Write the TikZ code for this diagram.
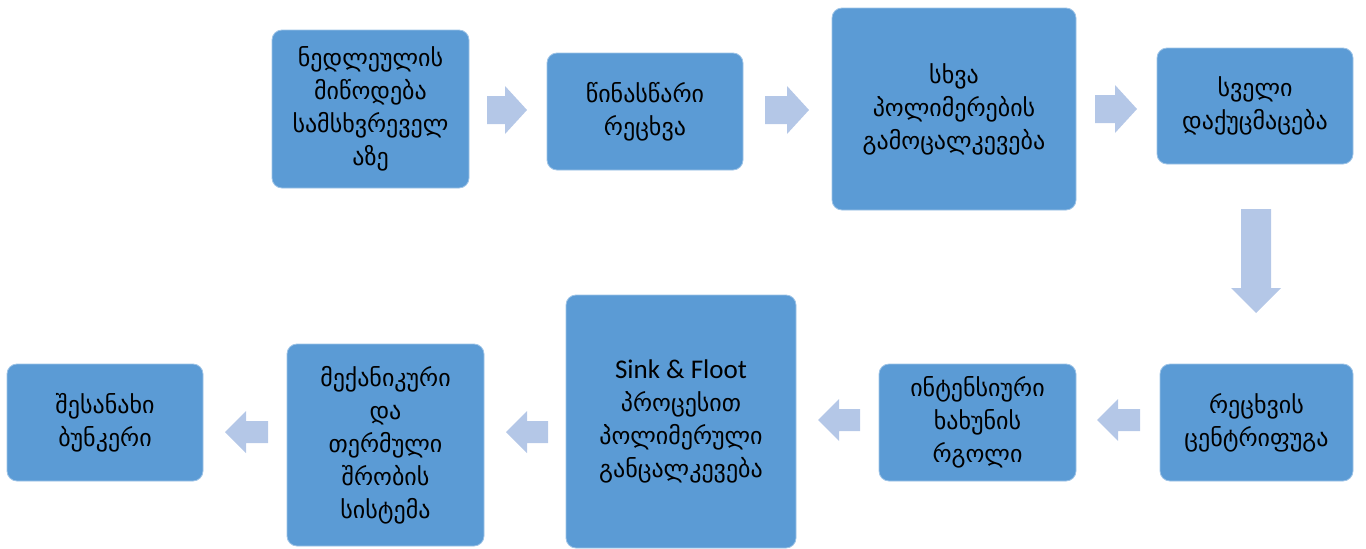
\documentclass[tikz,border=0pt]{standalone}
\usepackage{fontspec}
\setmainfont{DejaVu Sans}
\newfontfamily\latinfont{Carlito}
\definecolor{boxblue}{RGB}{91,155,213}
\definecolor{arrowblue}{RGB}{180,199,231}
\tikzset{
  stepbox/.style={rectangle, rounded corners=10pt, fill=boxblue, draw=boxblue!60!white,
    line width=0.8pt, align=center, inner sep=0pt,
    font=\fontsize{24}{33}\selectfont, text=black},
  % block arrow pointing along +x from its tail: length, total width, shaft width, head length
  pics/flowarrow/.style n args={4}{code={
    \fill[arrowblue] (0,-#3/2) -- ({#1-#4},-#3/2) -- ({#1-#4},-#2/2) -- (#1,0)
      -- ({#1-#4},#2/2) -- ({#1-#4},#3/2) -- (0,#3/2) -- cycle;
  }},
}
\begin{document}
\begin{tikzpicture}[x=1pt,y=-1pt]
\useasboundingbox (0,0) rectangle (1366,549);

% top row, left to right
\node[stepbox, minimum width=197pt, minimum height=158pt] (b1) at (370.5,109)
  {ნედლეულის\\მიწოდება\\სამსხვრეველ\\აზე};
\node[stepbox, minimum width=196pt, minimum height=117pt] (b2) at (645,111.5)
  {წინასწარი\\რეცხვა};
\node[stepbox, minimum width=244pt, minimum height=202pt] (b3) at (954,109)
  {სხვა\\პოლიმერების\\გამოცალკევება};
\node[stepbox, minimum width=196pt, minimum height=116pt] (b4) at (1255,106)
  {სველი\\დაქუცმაცება};

% bottom row, right to left
\node[stepbox, minimum width=193pt, minimum height=117pt] (b5) at (1256.5,422.5)
  {რეცხვის\\ცენტრიფუგა};
\node[stepbox, minimum width=197pt, minimum height=117pt] (b6) at (977.5,422.5)
  {ინტენსიური\\ხახუნის\\რგოლი};
\node[stepbox, minimum width=230pt, minimum height=253pt] (b7) at (681,421.5)
  {{\latinfont\fontsize{27}{33}\selectfont Sink \& Floot}\\პროცესით\\პოლიმერული\\განცალკევება};
\node[stepbox, minimum width=197pt, minimum height=202pt] (b8) at (385.5,445)
  {მექანიკური\\და\\თერმული\\შრობის\\სისტემა};
\node[stepbox, minimum width=196pt, minimum height=117pt] (b9) at (105,422.5)
  {შესანახი\\ბუნკერი};

% block arrows between the steps (placed at their tails)
\coordinate (a1) at (487,110);
\coordinate (a2) at (765,110);
\coordinate (a3) at (1095,109);
\coordinate (a4) at (1256,209);
\coordinate (a5) at (1140,420);
\coordinate (a6) at (860,420);
\coordinate (a7) at (548,432);
\coordinate (a8) at (268,432);
\pic at (a1) {flowarrow={40}{48}{28}{22}};
\pic at (a2) {flowarrow={44}{48}{28}{22}};
\pic at (a3) {flowarrow={42}{48}{28}{22}};
\pic[rotate=-90] at (a4) {flowarrow={104}{50}{30}{25}};
\pic[rotate=180] at (a5) {flowarrow={43}{42}{22}{21}};
\pic[rotate=180] at (a6) {flowarrow={42}{42}{22}{21}};
\pic[rotate=180] at (a7) {flowarrow={42}{42}{22}{21}};
\pic[rotate=180] at (a8) {flowarrow={43}{42}{22}{21}};
\end{tikzpicture}
\end{document}
